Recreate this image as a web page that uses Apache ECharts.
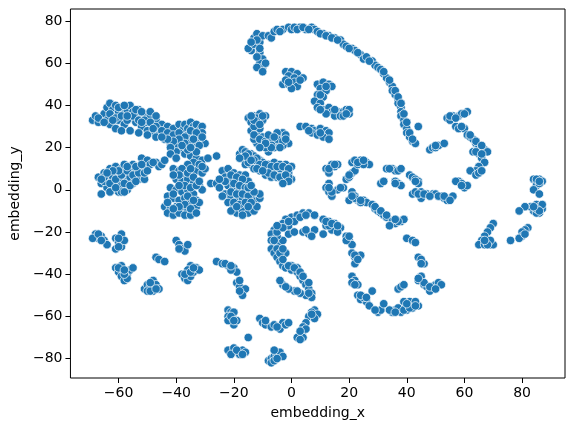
<!DOCTYPE html>
<html>
<head>
<meta charset="utf-8">
<title>embedding</title>
<script src="https://cdn.jsdelivr.net/npm/echarts@6.0.0/dist/echarts.min.js"></script>
<style>
  html, body { margin: 0; padding: 0; background: #fff; }
  #chartmain { width: 574px; height: 433px; }
</style>
</head>
<body>
<div id="chartmain"></div>
<script type="text/javascript">
// tick labels
var xTicks = [-60, -40, -20, 0, 20, 40, 60, 80];
var yTicks = [-80, -60, -40, -20, 0, 20, 40, 60, 80];

// points, grouped by cluster
var topArc = [[-14,66],[-15,67],[-13,69],[-13,72],[-12,74],[-11,70],[-10,73],[-11,65],[-10,62],[-11,60],[-10,58],[-12,58],[-10,56],
  [-8,73],[-7,72],[-6,75],[-5,76],[-3,76],[-1,77],[0,76],[1,77],[3,77],[5,76],[7,77],[8,76],[9,75],[11,74],[13,73],[15,72],[17,71],
  [18,69],[19,68],[21,67],[22,66],[24,64],[25,62],[26,63],[28,61],[29,59],[30,58],[31,57],[32,55],[33,53],[34,51],[35,49],[35,47],
  [36,45],[37,43],[37,41],[38,39],[38,37],[38,35],[39,33],[39,31],[40,29],[40,27],[41,25],[42,23],[43,22],[44,30],
  [-12,71],[-14,70],[-11,67],[-12,63],[-9,60],[-4,75],[2,76],[4,77],[6,76],[10,74],[12,73],[14,72],[16,71],[20,67],[23,65],
  [27,61],[32,56],[34,52],[36,47],[37,44],[38,41],[39,36],[40,32],[41,27],[42,24]];
var smallTop = [[-2,56],[0,56],[2,55],[4,53],[-1,54],[1,53],[-3,50],[-1,50],[1,51],[2,49],[0,48],[-2,52],[3,52],[-1,51]];
var lShape = [[9,50],[11,51],[13,50],[14,49],[10,48],[12,47],[9,45],[11,44],[8,42],[10,41],[9,39],[11,38],[13,39],[14,37],[16,37],
  [18,37],[20,36],[15,35],[17,35],[19,38],[12,36],[20,38],[10,45],[12,49],[10,38],[15,38],[18,35],[19,36]];
var midTop = [[3,30],[5,30],[7,29],[8,28],[10,29],[12,28],[13,27],[7,27],[9,26],[11,25],[13,24],[6,28],[10,27]];
var upperMid = [[-15,34],[-13,35],[-11,36],[-9,35],[-14,32],[-12,31],[-10,33],[-14,28],[-12,27],[-10,25],[-8,24],[-6,23],[-4,25],
  [-3,27],[-5,27],[-2,26],[-1,22],[-3,21],[-5,22],[-6,20],[-8,18],[-10,21],[-12,22],[-13,24],[-7,22],[-9,20],[-11,29],[-13,30],
  [-12,34],[-10,35],[-13,33],[-11,31],[-13,26],[-11,24],[-9,23],[-7,25],[-5,24],[-3,23],[-7,20],[-9,22],[-11,20],[-4,20],
  [-2,24],[-14,35],[-8,26],[-6,25]];
var diagBand = [[-18,17],[-17,19],[-16,18],[-14,17],[-17,15],[-15,15],[-13,16],[-11,14],[-16,12],[-14,12],[-12,12],[-10,13],[-8,12],
  [-6,13],[-4,12],[-2,12],[0,11],[-13,10],[-11,9],[-9,10],[-7,9],[-5,9],[-3,8],[-1,8],[-9,7],[-7,6],[-5,6],[-3,5],[0,5],[-1,6],
  [-15,13],[-12,15],[-10,11],[-6,10],[-4,10],[-2,10],[-15,17],[-13,14],[-11,12],[-9,12],[-7,11],[-5,11],[-3,11],[-1,10],
  [-12,10],[-8,8],[-6,7],[-4,6],[-2,7],[-10,9],[-16,16],[-18,15],[-14,14],[-1,4],[-3,3]];
var midBlob = [[-28,3],[-26,3],[-24,9],[-22,10],[-20,8],[-18,7],[-16,7],[-23,6],[-21,5],[-19,4],[-17,3],[-15,4],[-22,2],[-20,1],
  [-18,0],[-16,-1],[-14,-1],[-13,-3],[-23,-2],[-21,-4],[-19,-5],[-17,-4],[-15,-5],[-13,-6],[-22,-6],[-20,-8],[-18,-9],[-16,-8],
  [-14,-8],[-12,-5],[-19,-11],[-17,-10],[-15,-11],[-13,-10],[-21,-10],[-24,-3],[-25,1],[-11,-4],[-12,-8],[-11,-2],
  [-21,7],[-19,6],[-17,5],[-20,3],[-18,2],[-16,1],[-21,-1],[-19,-2],[-17,-2],[-15,-3],[-20,-6],[-18,-7],[-16,-6],[-14,-6],
  [-17,-12],[-15,-8],[-19,-8],[-23,4],[-25,5],[-13,-1],[-15,1],[-14,2]];
var leftBand = [[-69,33],[-68,35],[-67,32],[-66,34],[-65,36],[-64,33],[-64,39],[-63,41],[-62,38],[-62,35],[-61,40],[-60,37],[-60,33],
  [-59,39],[-58,36],[-58,31],[-57,38],[-56,40],[-56,34],[-55,37],[-54,32],[-54,35],[-53,38],[-52,34],[-52,30],[-51,36],[-50,32],
  [-50,28],[-49,35],[-48,31],[-48,27],[-47,33],[-46,29],[-46,26],[-45,31],[-44,28],[-44,24],[-43,30],[-42,26],[-42,22],[-41,29],
  [-40,25],[-40,21],[-39,31],[-38,28],[-38,23],[-37,31],[-36,29],[-36,26],[-35,32],[-34,30],[-34,27],[-33,31],[-32,28],[-32,25],
  [-31,30],[-31,27],[-36,22],[-34,19],[-38,19],[-37,17],[-35,16],[-33,15],[-31,14],[-29,15],[-26,16],[-63,31],[-61,29],[-59,28],
  [-56,28],[-53,27],[-50,26],[-47,25],[-33,22],[-35,23],[-30,22],
  [-67,34],[-65,32],[-63,36],[-61,34],[-59,35],[-57,33],[-55,35],[-53,33],[-51,33],[-49,32],[-47,30],[-45,28],[-43,27],
  [-41,26],[-39,27],[-37,25],[-35,28],[-33,27],[-37,22],[-39,24],[-41,23],[-43,24],[-45,25],[-48,29],[-52,32],[-57,35],
  [-62,33],[-60,39],[-58,40],[-54,38],[-52,37],[-49,37],[-47,35],[-34,24],[-32,21],[-36,19],[-38,21],[-40,18],[-42,20],
  [-31,25],[-33,18],[-35,20]];
var leftBlob = [[-67,6],[-66,-2],[-66,3],[-65,8],[-64,5],[-64,1],[-63,10],[-63,7],[-62,3],[-62,0],[-61,11],[-61,8],[-60,5],[-60,-1],
  [-59,10],[-59,2],[-58,7],[-58,12],[-57,4],[-57,0],[-56,9],[-56,6],[-55,12],[-55,3],[-54,8],[-53,5],[-53,11],[-52,8],[-52,15],
  [-51,5],[-51,11],[-50,14],[-49,12],[-47,13],[-46,11],[-45,12],[-44,14],[-42,17],[-40,15],[-59,-1],[-62,6],[-65,4],
  [-65,6],[-63,3],[-61,5],[-59,7],[-57,9],[-55,7],[-53,8],[-51,8],[-63,-1],[-61,1],[-58,3],[-56,2],[-54,4],[-60,9],[-62,9],
  [-57,11],[-54,11],[-50,9],[-48,13],[-52,12],[-64,8],[-66,5],[-58,-1]];
var centerLeft = [[-41,10],[-39,9],[-37,7],[-35,8],[-33,9],[-31,8],[-34,13],[-32,12],[-36,12],[-40,5],[-38,4],[-36,5],[-34,3],
  [-32,2],[-31,0],[-42,1],[-40,0],[-38,-1],[-36,0],[-34,-2],[-33,-5],[-43,-3],[-41,-4],[-39,-5],[-37,-4],[-35,-6],[-33,-8],
  [-44,-8],[-42,-9],[-40,-8],[-38,-9],[-36,-10],[-34,-11],[-43,-11],[-41,-12],[-39,-11],[-37,-12],[-35,-12],[-32,-6],
  [-38,10],[-36,8],[-34,6],[-39,7],[-41,7],[-37,2],[-35,1],[-33,2],[-39,2],[-41,-2],[-37,-7],[-35,-9],[-39,-8],[-41,-9],
  [-43,-6],[-33,-11],[-36,-3],[-34,-5],[-32,4],[-30,10],[-35,10],[-31,11]];
var sCurve = [[0,-13],[2,-12],[4,-11],[6,-11],[8,-12],[-2,-14],[-3,-16],[-4,-18],[-6,-19],[-7,-21],[-7,-24],[-6,-26],[-7,-28],
  [-6,-30],[-5,-32],[-4,-34],[-3,-36],[-2,-37],[0,-38],[2,-39],[3,-41],[4,-43],[5,-45],[6,-47],[7,-49],[7,-51],[5,-50],[3,-49],
  [1,-48],[-1,-47],[-3,-45],[-4,-43],[-4,-26],[-3,-24],[-1,-21],[1,-20],[-5,-22],[-2,-30],[0,-36],[2,-37],[-1,-17],[1,-15],
  [-5,-20],[-6,-24],[-5,-28],[-4,-30],[-3,-33],[-1,-36],[1,-37],[3,-39],[4,-41],[6,-49],[6,-44],[2,-48],[-2,-46],[3,-13],
  [5,-12],[-1,-15],[-3,-18],[-5,-17],[-3,-28],
  [4,-20],[6,-21],[8,-19],[7,-22],[5,-19],
  [8,-57],[7,-58],[9,-59],[6,-60],[8,-61],[5,-63],[4,-65],[4,-67],[3,-69],[4,-70],[2,-70],[3,-71],[7,-59],[5,-66],[3,-67]];
var rightLower = [[11,-14],[13,-15],[15,-16],[17,-18],[14,-19],[12,-17],[11,-21],[16,-20],[13,-17],
  [19,-22],[20,-24],[21,-26],[19,-24],[21,-30],[22,-32],[24,-31],[22,-35],[21,-41],[22,-43],[23,-45],[21,-44],[23,-50],[24,-52],
  [26,-53],[27,-55],[28,-48],[25,-51],[30,-58],[31,-57],[32,-54],[35,-58],[36,-57],[38,-58],[40,-57],[42,-56],[44,-55],[41,-53],
  [43,-53],[39,-53],[37,-56],[37,-47],[38,-46],[39,-45],[44,-43],[46,-45],[47,-46],[48,-48],[49,-46],[50,-45],[51,-44],[52,-45],
  [45,-41],[44,-32],[45,-34],[46,-35],[45,-33],[40,-23],[42,-24],[43,-25],
  [20,-22],[22,-31],[23,-33],[22,-45],[24,-50],[26,-51],[29,-57],[34,-57],[36,-58],[39,-57],[41,-56],[43,-55],[40,-54],
  [46,-44],[48,-46],[50,-47],[45,-35],[44,-42],[12,-15],[14,-16],[16,-17]];
var midRight = [[12,10],[13,8],[14,12],[15,11],[16,12],[13,3],[12,1],[13,-1],[14,-3],[16,0],[18,1],[19,5],[20,6],[21,8],[22,9],
  [21,13],[22,14],[24,14],[26,13],[27,12],[23,12],[25,12],[21,-1],[22,-3],[23,-5],[25,-5],[26,-6],[24,-6],[20,-5],[22,-4],
  [28,-7],[29,-9],[30,-10],[31,-11],[32,-12],[33,-13],[35,-15],[36,-16],[38,-15],[39,-14],[34,-17],[37,-15],[33,10],[35,10],
  [36,9],[37,9],[38,10],[36,4],[37,3],[38,2],[31,3],[32,4],[41,7],[42,6],[43,5],[44,4],[44,3],[42,-2],[43,-1],[45,-1],[47,-2],
  [49,-2],[50,-2],[52,-3],[53,-4],[54,-5],[55,-4],[56,-3],[45,-4],[51,-3],[48,19],[49,20],[50,20],[51,21],[53,22],
  [13,10],[15,12],[14,-1],[13,1],[17,1],[20,7],[23,13],[25,14],[21,-3],[24,-5],[29,-8],[31,-10],[33,-12],[36,-14],[34,10],
  [36,3],[43,4],[44,-2],[46,-2],[48,-3],[53,-3],[55,-5],[50,21]];
var rightArc = [[54,34],[55,33],[56,35],[58,35],[59,36],[61,37],[57,30],[58,29],[60,29],[61,26],[62,25],[63,24],[64,22],[65,21],
  [66,20],[67,19],[68,18],[63,18],[65,17],[66,15],[67,13],[65,11],[64,9],[62,9],[64,7],[65,8],[58,4],[59,3],[60,1],[61,2],[57,4],
  [55,35],[57,34],[60,36],[59,30],[62,26],[64,23],[66,21],[64,18],[66,17],[66,9],[59,2]];
var farRight = [[84,5],[85,4],[86,5],[87,4],[85,2],[86,3],[84,0],[86,-2],[85,-7],[86,-8],[87,-9],[84,-10],[86,-11],[85,-11],
  [83,-8],[87,-7],[81,-8],[79,-10],[82,-18],[81,-19],[80,-20],[80,-22],[79,-23],[76,-24],[70,-16],[69,-18],[68,-20],[67,-22],
  [66,-24],[65,-26],[67,-26],[69,-26],[70,-26],[68,-25],[85,5],[86,4],[85,-9],[86,-10],[84,-8],[81,-21],[69,-24],[68,-26],[67,-24]];
var lowerLeft = [[-68,-21],[-67,-23],[-66,-22],[-65,-24],[-64,-26],[-69,-23],[-61,-23],[-60,-25],[-59,-27],[-61,-28],[-59,-21],
  [-58,-24],[-61,-37],[-60,-39],[-59,-41],[-58,-43],[-57,-40],[-56,-38],[-55,-37],[-59,-36],[-57,-42],[-51,-47],[-50,-45],
  [-49,-46],[-48,-43],[-47,-45],[-46,-47],[-48,-48],[-50,-48],[-47,-32],[-46,-33],[-44,-34],[-40,-24],[-39,-26],[-38,-28],
  [-37,-29],[-36,-26],[-38,-40],[-37,-42],[-36,-43],[-35,-41],[-34,-39],[-33,-37],[-32,-38],[-35,-36],[-36,-38],[-26,-34],
  [-24,-35],[-22,-36],[-20,-37],[-19,-39],[-21,-38],[-19,-44],[-18,-46],[-17,-48],[-16,-47],[-18,-43],[-17,-50],
  [-67,-21],[-66,-24],[-60,-23],[-60,-27],[-60,-37],[-58,-40],[-58,-38],[-49,-48],[-47,-47],[-49,-44],[-37,-40],[-35,-39],
  [-34,-37],[-23,-35],[-21,-36],[-18,-48],[-39,-28]];
var lowerMid = [[-22,-57],[-21,-58],[-22,-60],[-21,-62],[-20,-64],[-19,-62],[-20,-58],[-22,-62],[-15,-70],[-22,-76],[-20,-75],
  [-19,-77],[-18,-78],[-17,-76],[-16,-77],[-21,-78],[-11,-61],[-10,-63],[-9,-64],[-7,-65],[-6,-64],[-4,-66],[-3,-63],[-2,-64],
  [-1,-63],[-8,-81],[-7,-80],[-6,-79],[-5,-78],[-4,-77],[-6,-76],[-3,-79],[-7,-82],
  [-21,-60],[-20,-62],[-19,-76],[-17,-78],[-9,-62],[-5,-65],[-6,-81],[-5,-80]];

var points = [].concat(topArc, smallTop, lShape, midTop, upperMid, diagBand, midBlob, leftBand, leftBlob,
  centerLeft, sCurve, rightLower, midRight, rightArc, farRight, lowerLeft, lowerMid);

var fontFam = 'DejaVu Sans';
function minus(v) { return String(v).replace('-', '\u2212'); }

var myChart = echarts.init(document.getElementById('chartmain'));
myChart.setOption({
    animation: false,
    grid: {
        left: 70, right: 9, top: 9, bottom: 55,
        show: true, borderColor: '#000', borderWidth: 1, backgroundColor: 'transparent'
    },
    xAxis: {
        type: 'value',
        min: -76.7, max: 94.9,
        name: 'embedding_x', nameLocation: 'middle', nameGap: 28,
        nameTextStyle: { fontFamily: fontFam, fontSize: 14, color: '#000' },
        axisLine: { show: false, onZero: false },
        axisTick: { show: true, length: 5, customValues: xTicks, lineStyle: { color: '#000', width: 1 } },
        axisLabel: { customValues: xTicks, formatter: minus, margin: 8, fontFamily: fontFam, fontSize: 14, color: '#000' },
        splitLine: { show: false }
    },
    yAxis: {
        type: 'value',
        min: -89.2, max: 85.7,
        name: 'embedding_y', nameLocation: 'middle', nameGap: 44, nameRotate: 90,
        nameTextStyle: { fontFamily: fontFam, fontSize: 14, color: '#000' },
        axisLine: { show: false, onZero: false },
        axisTick: { show: true, length: 5, customValues: yTicks, lineStyle: { color: '#000', width: 1 } },
        axisLabel: { customValues: yTicks, formatter: minus, margin: 8, fontFamily: fontFam, fontSize: 14, color: '#000' },
        splitLine: { show: false }
    },
    series: [{
        type: 'scatter',
        data: points,
        symbolSize: 8.5,
        itemStyle: { color: '#1f77b4', borderColor: '#fff', borderWidth: 0.7, opacity: 1 }
    }]
});
</script>
</body>
</html>
